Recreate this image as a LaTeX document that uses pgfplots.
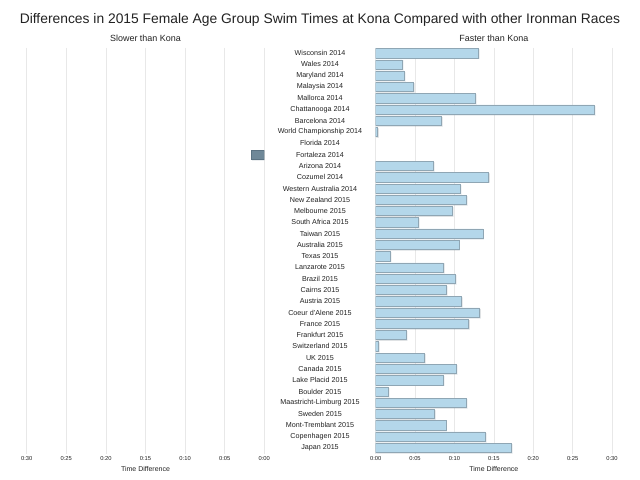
\documentclass[border=0pt]{standalone}
\usepackage{fontspec}
\setmainfont{Liberation Sans}
\usepackage{pgfplots}
\usepackage{pgfplotstable}
\pgfplotsset{compat=1.18}
\usetikzlibrary{shadows}

\definecolor{barfill}{HTML}{B4D7EA}
\definecolor{baredge}{HTML}{8FA6B4}
\definecolor{slowfill}{HTML}{6F8898}
\definecolor{slowedge}{HTML}{5B7282}
\definecolor{gridc}{HTML}{E8E8E8}
\definecolor{txt}{HTML}{222222}

% race names, top to bottom
\pgfplotstableread[col sep=comma]{
race
Wisconsin 2014
Wales 2014
Maryland 2014
Malaysia 2014
Mallorca 2014
Chattanooga 2014
Barcelona 2014
World Championship 2014
Florida 2014
Fortaleza 2014
Arizona 2014
Cozumel 2014
Western Australia 2014
New Zealand 2015
Melbourne 2015
South Africa 2015
Taiwan 2015
Australia 2015
Texas 2015
Lanzarote 2015
Brazil 2015
Cairns 2015
Austria 2015
Coeur d'Alene 2015
France 2015
Frankfurt 2015
Switzerland 2015
UK 2015
Canada 2015
Lake Placid 2015
Boulder 2015
Maastricht-Limburg 2015
Sweden 2015
Mont-Tremblant 2015
Copenhagen 2015
Japan 2015
}\races

% minutes faster than Kona (row index, minutes)
\pgfplotstableread{
y  min
0  13.0
1  3.35
2  3.6
3  4.8
4  12.65
5  27.7
6  8.35
7  0.25
10 7.3
11 14.35
12 10.7
13 11.5
14 9.7
15 5.4
16 13.6
17 10.55
18 1.8
19 8.6
20 10.1
21 8.95
22 10.9
23 13.2
24 11.8
25 3.85
26 0.35
27 6.2
28 10.2
29 8.55
30 1.55
31 11.45
32 7.45
33 8.9
34 13.9
35 17.2
}\faster

% minutes slower than Kona
\pgfplotstableread{
y  min
9  1.6
}\slower

\pgfplotsset{
  halfaxis/.style={
    anchor=south west, scale only axis,
    height=406bp,
    xmin=0, xmax=30, ymin=-0.5, ymax=35.5, y dir=reverse,
    axis line style={draw=none}, major tick length=0pt,
    xtick={0,5,...,30},
    xticklabels={0:00,0:05,0:10,0:15,0:20,0:25,0:30},
    xticklabel style={font=\fontsize{5.8}{7}\selectfont, text=txt, anchor=center, yshift=-5.5bp},
    xmajorgrids, grid style={gridc, line width=0.6bp},
    xlabel={Time Difference},
    xlabel style={at={(axis description cs:0.5,0)}, anchor=center, yshift=-15.5bp,
      font=\fontsize{7}{8}\selectfont, text=txt},
    title style={at={(axis description cs:0.5,1)}, anchor=base, yshift=-0.2bp,
      font=\fontsize{9}{10}\selectfont, text=txt},
    xbar, bar width=0.82,
  },
  shadowed/.style={drop shadow={shadow xshift=0.9bp, shadow yshift=-0.9bp,
    fill=black, opacity=0.12}},
}

\begin{document}
\begin{tikzpicture}
\path[use as bounding box] (0,0) rectangle (640bp,480bp);

\node[anchor=base, font=\fontsize{13.9}{15}\selectfont, text=txt] at (320bp,456bp)
  {Differences in 2015 Female Age Group Swim Times at Kona Compared with other Ironman Races};

\begin{axis}[halfaxis,
  at={(26.7bp,26.5bp)}, width=237.6bp,
  x dir=reverse,
  title={Slower than Kona},
  ytick={0,...,35},
  yticklabels from table={\races}{race},
  yticklabel pos=right,
  yticklabel style={anchor=center, xshift=55.7bp,
    font=\fontsize{7.2}{8}\selectfont, text=txt},
]
\addplot[fill=slowfill, draw=slowedge, line width=0.5bp, bar shift=0pt, shadowed]
  table[x=min, y=y] {\slower};
\end{axis}

\begin{axis}[halfaxis,
  at={(375.7bp,26.5bp)}, width=236.3bp,
  title={Faster than Kona},
  ytick=\empty,
]
\addplot[fill=barfill, draw=baredge, line width=0.5bp, bar shift=0pt, shadowed]
  table[x=min, y=y] {\faster};
\end{axis}
\end{tikzpicture}
\end{document}
